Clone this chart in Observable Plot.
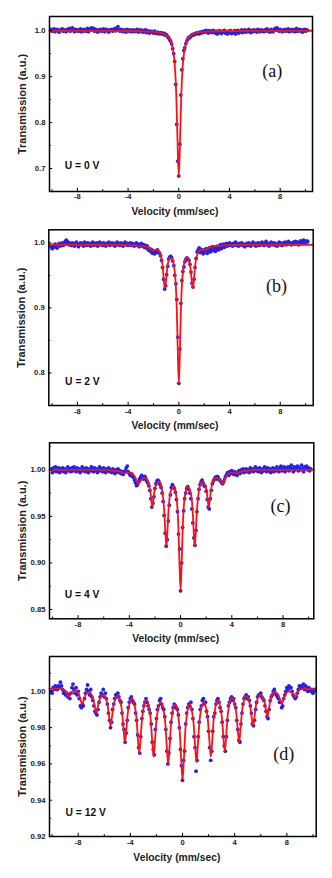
<!DOCTYPE html>
<html><head><meta charset="utf-8">
<script src="https://cdn.jsdelivr.net/npm/d3@7"></script>
<script src="https://cdn.jsdelivr.net/npm/@observablehq/plot@0.6"></script>
<style>
body{margin:0;background:#fff;}
#wrap{position:relative;width:332px;height:878px;overflow:hidden;background:#fff;}
#wrap svg{position:absolute;left:0;}
</style></head><body><div id="wrap"></div>
<script>
// channel velocities (mm/sec)
const velocity = [
-10.08,-10,-9.92,-9.84,-9.76,-9.68,-9.6,-9.52,-9.44,-9.36,
-9.28,-9.2,-9.12,-9.04,-8.96,-8.88,-8.8,-8.72,-8.64,-8.56,
-8.48,-8.4,-8.32,-8.24,-8.16,-8.08,-8,-7.92,-7.84,-7.76,
-7.68,-7.6,-7.52,-7.44,-7.36,-7.28,-7.2,-7.12,-7.04,-6.96,
-6.88,-6.8,-6.72,-6.64,-6.56,-6.48,-6.4,-6.32,-6.24,-6.16,
-6.08,-6,-5.92,-5.84,-5.76,-5.68,-5.6,-5.52,-5.44,-5.36,
-5.28,-5.2,-5.12,-5.04,-4.96,-4.88,-4.8,-4.72,-4.64,-4.56,
-4.48,-4.4,-4.32,-4.24,-4.16,-4.08,-4,-3.92,-3.84,-3.76,
-3.68,-3.6,-3.52,-3.44,-3.36,-3.28,-3.2,-3.12,-3.04,-2.96,
-2.88,-2.8,-2.72,-2.64,-2.56,-2.48,-2.4,-2.32,-2.24,-2.16,
-2.08,-2,-1.92,-1.84,-1.76,-1.68,-1.6,-1.52,-1.44,-1.36,
-1.28,-1.2,-1.12,-1.04,-0.96,-0.88,-0.8,-0.72,-0.64,-0.56,
-0.48,-0.4,-0.32,-0.24,-0.16,-0.08,0,0.08,0.16,0.24,
0.32,0.4,0.48,0.56,0.64,0.72,0.8,0.88,0.96,1.04,
1.12,1.2,1.28,1.36,1.44,1.52,1.6,1.68,1.76,1.84,
1.92,2,2.08,2.16,2.24,2.32,2.4,2.48,2.56,2.64,
2.72,2.8,2.88,2.96,3.04,3.12,3.2,3.28,3.36,3.44,
3.52,3.6,3.68,3.76,3.84,3.92,4,4.08,4.16,4.24,
4.32,4.4,4.48,4.56,4.64,4.72,4.8,4.88,4.96,5.04,
5.12,5.2,5.28,5.36,5.44,5.52,5.6,5.68,5.76,5.84,
5.92,6,6.08,6.16,6.24,6.32,6.4,6.48,6.56,6.64,
6.72,6.8,6.88,6.96,7.04,7.12,7.2,7.28,7.36,7.44,
7.52,7.6,7.68,7.76,7.84,7.92,8,8.08,8.16,8.24,
8.32,8.4,8.48,8.56,8.64,8.72,8.8,8.88,8.96,9.04,
9.12,9.2,9.28,9.36,9.44,9.52,9.6,9.68,9.76,9.84,
9.92,10,10.08,10.16];

// measured transmission, U = 0 V
const transA = [
1.003,0.999,1.002,1.004,0.998,1.001,1.003,1.000,0.997,1.002,
1.001,1.004,0.999,1.002,1.000,0.998,1.003,1.001,1.005,0.999,
1.002,1.006,1.001,0.998,1.003,1.000,1.002,0.999,1.001,1.004,
0.998,1.002,1.000,1.003,0.999,1.001,1.005,0.998,1.002,1.004,
1.006,1.002,1.005,0.999,1.003,1.001,0.997,1.002,1.000,1.003,
0.999,1.002,1.004,0.998,1.001,1.003,1.000,0.997,1.002,1.001,
1.003,0.999,1.002,1.005,1.000,1.004,1.009,1.002,0.999,1.003,
1.001,0.998,1.002,1.000,0.997,1.003,1.001,0.999,1.002,0.998,
1.000,1.002,0.998,1.001,0.999,1.003,0.997,1.000,1.002,0.998,
1.001,0.997,0.999,1.002,0.996,1.000,0.998,0.995,0.999,0.997,
0.998,0.995,0.999,0.996,0.994,0.997,0.995,0.993,0.996,0.994,
0.995,0.992,0.994,0.990,0.991,0.987,0.985,0.981,0.977,0.971,
0.961,0.950,0.933,0.883,0.796,0.716,0.684,0.753,0.860,0.915,
0.939,0.957,0.963,0.972,0.978,0.982,0.986,0.985,0.989,0.991,
0.990,0.993,0.992,0.995,0.994,0.996,0.993,0.997,0.995,0.998,
0.996,0.999,0.997,1.001,0.998,0.995,1.000,0.997,0.999,0.996,
1.001,0.998,0.995,0.999,0.993,0.997,1.000,0.996,0.994,0.999,
0.997,1.001,0.995,0.998,0.993,0.999,0.996,1.000,0.994,0.998,
0.996,1.000,0.993,0.998,1.001,0.995,0.999,0.997,1.002,0.996,
0.999,1.002,0.997,1.000,0.998,1.003,0.999,0.996,1.001,0.998,
1.002,0.999,1.001,0.997,1.003,1.000,0.998,1.002,0.999,1.001,
0.998,1.002,1.000,1.004,0.999,1.001,0.997,1.003,1.000,0.998,
1.002,1.005,1.001,1.006,1.002,0.999,1.003,1.001,0.998,1.002,
1.000,1.003,0.999,1.001,1.004,0.998,1.002,1.000,1.003,0.999,
1.002,0.998,1.005,1.001,0.999,1.003,1.000,1.002,0.997,1.001,
1.003,0.999,1.002,1.001];

// measured transmission, U = 2 V
const transB = [
0.994,0.991,0.996,0.993,0.998,0.995,0.992,0.997,0.999,0.995,
0.997,1.000,0.996,0.999,1.002,1.004,0.998,1.001,0.997,0.999,
0.996,1.000,0.998,0.995,0.999,1.001,0.997,0.994,0.998,1.000,
0.997,0.999,0.995,1.001,0.998,0.996,1.000,0.997,0.999,0.995,
0.998,1.001,0.996,0.999,0.997,1.000,0.995,0.998,1.001,0.997,
0.999,0.996,1.000,0.997,0.995,0.999,0.998,1.001,0.996,0.998,
1.000,0.997,0.999,0.995,0.998,1.001,0.997,0.999,0.996,1.000,
0.998,0.995,0.999,1.001,0.997,0.999,0.996,0.998,1.000,0.996,
0.999,0.997,0.995,0.998,1.000,0.996,0.998,0.994,0.997,0.999,
0.995,0.997,0.993,0.996,0.992,0.995,0.989,0.991,0.987,0.990,
0.984,0.986,0.983,0.987,0.985,0.989,0.986,0.984,0.980,0.973,
0.962,0.944,0.929,0.934,0.951,0.964,0.975,0.978,0.979,0.977,
0.972,0.965,0.950,0.937,0.913,0.855,0.784,0.837,0.907,0.942,
0.956,0.963,0.971,0.975,0.977,0.975,0.973,0.967,0.955,0.938,
0.932,0.944,0.962,0.976,0.986,0.989,0.992,0.985,0.990,0.987,
0.983,0.989,0.986,0.991,0.984,0.988,0.992,0.986,0.990,0.994,
0.988,0.993,0.987,0.991,0.995,0.989,0.993,0.997,0.991,0.994,
0.998,0.993,0.996,0.999,0.995,0.997,1.000,0.996,0.998,0.995,
0.999,0.997,1.001,0.996,0.998,0.995,0.999,0.997,1.000,0.996,
0.998,0.994,0.997,0.999,0.996,1.000,0.997,0.995,0.998,1.001,
0.997,0.999,0.995,0.998,1.000,0.996,0.999,0.997,1.001,0.998,
0.996,0.999,1.002,0.997,0.999,0.995,0.998,1.001,0.997,0.999,
1.000,0.996,0.998,0.995,0.999,1.001,0.997,0.999,0.996,1.000,
0.998,1.001,0.997,0.999,1.002,0.998,1.000,0.997,0.999,1.001,
0.998,1.002,0.999,1.001,0.997,1.000,1.003,0.999,1.001,1.004,
1.001,0.999,1.003,1.002];

// measured transmission, U = 4 V
const transC = [
1.001,0.997,1.002,0.999,1.003,0.998,1.000,1.002,0.997,1.001,
0.999,1.002,0.998,1.001,0.997,1.000,1.003,0.999,1.001,0.998,
1.002,0.999,1.003,1.000,0.998,1.002,0.999,1.001,0.997,1.000,
1.003,0.999,1.001,0.998,1.002,1.000,0.997,1.001,0.999,1.003,
1.000,0.998,1.002,0.999,1.001,0.997,1.000,1.003,0.999,1.001,
0.998,1.002,1.000,0.997,1.001,0.999,1.002,0.998,1.000,0.997,
1.001,0.999,0.996,1.000,0.998,1.001,0.997,0.999,0.996,0.998,
0.995,0.997,0.999,1.002,1.004,0.998,0.996,0.994,0.996,0.993,
0.992,0.989,0.986,0.983,0.984,0.987,0.990,0.992,0.994,0.991,
0.990,0.993,0.991,0.988,0.986,0.983,0.978,0.969,0.960,0.964,
0.971,0.980,0.985,0.988,0.989,0.987,0.984,0.981,0.975,0.966,
0.951,0.932,0.918,0.925,0.945,0.962,0.973,0.981,0.984,0.982,
0.980,0.976,0.968,0.955,0.931,0.915,0.870,0.900,0.938,0.956,
0.969,0.975,0.980,0.982,0.979,0.975,0.969,0.958,0.943,0.927,
0.919,0.935,0.955,0.969,0.979,0.984,0.987,0.989,0.986,0.983,
0.982,0.977,0.968,0.960,0.958,0.969,0.978,0.985,0.988,0.990,
0.992,0.990,0.993,0.991,0.989,0.988,0.986,0.985,0.987,0.990,
0.993,0.995,0.997,0.994,0.998,0.996,0.999,0.997,0.995,0.998,
0.996,0.994,0.997,0.999,0.996,1.000,0.998,1.001,0.997,0.999,
1.001,0.998,1.000,0.997,1.002,0.999,1.001,0.998,1.000,1.003,
0.999,1.001,0.998,1.002,1.000,0.997,1.001,0.999,1.003,1.000,
0.998,1.002,0.999,1.001,0.997,1.000,1.002,0.998,1.001,0.999,
1.003,1.000,0.998,1.002,1.004,0.999,1.001,1.003,0.998,1.002,
1.000,1.003,0.999,1.002,1.005,1.001,0.998,1.003,1.000,1.002,
1.004,0.999,1.002,1.000,1.005,1.001,0.998,1.003,1.001,1.004,
1.000,1.002,0.999,1.001];

// measured transmission, U = 12 V
const transD = [
1.000,0.999,1.002,1.001,1.003,1.002,1.001,1.003,1.002,1.005,
1.003,1.001,0.999,1.000,0.998,0.999,0.997,0.998,0.996,0.999,
1.002,1.004,1.001,0.999,1.002,0.998,1.000,0.996,0.992,0.991,
0.993,0.992,0.996,0.999,1.001,1.0035,1.000,0.998,1.001,0.997,
0.995,0.992,0.989,0.988,0.987,0.990,0.994,0.997,0.999,0.998,
1.001,0.997,0.999,0.996,0.993,0.988,0.984,0.980,0.983,0.990,
0.993,0.996,0.998,0.997,0.999,0.997,0.995,0.994,0.988,0.982,
0.979,0.972,0.977,0.984,0.991,0.994,0.996,0.997,0.995,0.994,
0.993,0.988,0.984,0.976,0.969,0.966,0.975,0.985,0.989,0.992,
0.994,0.996,0.994,0.992,0.990,0.988,0.982,0.972,0.968,0.965,
0.979,0.985,0.990,0.992,0.995,0.996,0.993,0.991,0.990,0.986,
0.979,0.967,0.960,0.966,0.974,0.983,0.988,0.991,0.993,0.992,
0.991,0.990,0.987,0.980,0.968,0.959,0.951,0.962,0.967,0.982,
0.988,0.991,0.993,0.992,0.994,0.990,0.985,0.975,0.969,0.956,
0.962,0.975,0.983,0.990,0.992,0.995,0.996,0.993,0.994,0.989,
0.986,0.978,0.969,0.962,0.967,0.978,0.986,0.988,0.993,0.995,
0.996,0.994,0.991,0.989,0.983,0.975,0.970,0.967,0.975,0.984,
0.992,0.994,0.996,0.997,0.995,0.996,0.993,0.991,0.984,0.979,
0.973,0.972,0.982,0.988,0.993,0.996,0.997,0.998,0.996,0.997,
0.995,0.992,0.988,0.982,0.981,0.984,0.990,0.994,0.997,0.998,
0.998,0.999,0.997,0.996,0.995,0.992,0.989,0.986,0.985,0.990,
0.995,0.997,0.998,1.000,1.001,0.999,0.998,0.997,0.996,0.994,
0.994,0.991,0.992,0.996,0.998,1.000,1.002,1.001,1.003,1.002,
1.002,1.000,0.998,0.997,0.996,0.997,0.999,1.001,1.003,1.002,
1.003,1.002,1.004,1.001,1.003,1.002,1.000,1.002,1.001,1.000,
1.001,0.999,1.000,1.001];

// fitted curves (velocity, transmission)
const fitAv = [-10.2,-4,-2,-1.5,-1.2,-1,-0.8,-0.6,-0.45,-0.3,-0.2,-0.1,0,0.1,0.2,0.3,0.45,0.6,0.8,1,1.2,1.5,2,4,10.55];
const fitAt = [1,0.9994,0.9976,0.9958,0.9934,0.9906,0.9855,0.975,0.958,0.9195,0.8625,0.761,0.683,0.761,0.8625,0.9195,0.958,0.975,0.9855,0.9906,0.9934,0.9958,0.9976,0.9994,1];

const fitBv = [-10.26,-5,-3.5,-2.8,-2.4,-2.2,-2,-1.8,-1.6,-1.44,-1.36,-1.28,-1.2,-1.12,-1.04,-0.96,-0.88,-0.8,-0.72,-0.64,-0.56,-0.48,-0.4,-0.32,-0.24,-0.16,-0.08,0,0.08,0.16,0.24,0.32,0.4,0.48,0.56,0.64,0.72,0.8,0.88,0.96,1.04,1.12,1.2,1.28,1.36,1.44,1.6,1.8,2,2.2,2.4,2.8,3.5,5,10.6];
const fitBt = [0.997,0.997,0.996,0.995,0.993,0.990,0.9886,0.9895,0.988,0.981,0.975,0.964,0.946,0.931,0.937,0.953,0.966,0.973,0.976,0.977,0.976,0.973,0.967,0.955,0.935,0.896,0.831,0.784,0.831,0.896,0.935,0.955,0.967,0.973,0.976,0.977,0.976,0.973,0.966,0.953,0.937,0.931,0.946,0.964,0.975,0.981,0.988,0.9895,0.9886,0.990,0.993,0.995,0.996,0.997,0.997];

const fitCv = [-10.23,-6,-5.2,-4.7,-4.5,-4.4,-4.3,-4.1,-3.9,-3.7,-3.5,-3.38,-3.3,-3.22,-3.12,-3,-2.9,-2.76,-2.64,-2.52,-2.44,-2.36,-2.28,-2.2,-2.12,-2.04,-1.96,-1.88,-1.8,-1.68,-1.56,-1.44,-1.34,-1.26,-1.18,-1.1,-1.04,-0.96,-0.88,-0.8,-0.7,-0.55,-0.4,-0.32,-0.24,-0.16,-0.08,0,
0.08,0.16,0.24,0.32,0.4,0.55,0.7,0.8,0.88,0.96,1.04,1.1,1.18,1.26,1.34,1.44,1.56,1.68,1.8,1.88,1.96,2.04,2.12,2.2,2.28,2.36,2.44,2.52,2.64,2.76,2.9,3,3.12,3.22,3.3,3.38,3.5,3.7,3.9,4.1,4.3,4.4,4.5,4.7,5.2,6,10.4];
const fitCt = [1,1,0.999,0.998,0.9965,0.996,0.9965,0.997,0.997,0.995,0.991,0.987,0.985,0.986,0.988,0.990,0.991,0.991,0.990,0.987,0.983,0.977,0.967,0.960,0.967,0.977,0.982,0.9845,0.986,0.987,0.985,0.978,0.967,0.952,0.931,0.918,0.930,0.952,0.967,0.975,0.979,0.982,0.977,0.970,0.958,0.934,0.897,0.871,
0.897,0.934,0.958,0.970,0.977,0.982,0.979,0.975,0.967,0.952,0.930,0.918,0.931,0.952,0.967,0.978,0.985,0.987,0.986,0.9845,0.982,0.977,0.967,0.960,0.967,0.977,0.983,0.987,0.990,0.991,0.991,0.990,0.988,0.986,0.985,0.987,0.991,0.995,0.997,0.997,0.9965,0.996,0.9965,0.998,0.999,1,1];

const fitDv = [-10.2,-9.4,-9.1,-8.97,-8.85,-8.75,-8.65,-8.53,-8.4,-8.22,
-8.05,-7.92,-7.8,-7.7,-7.6,-7.48,-7.35,-7.16,
-6.97,-6.84,-6.72,-6.62,-6.52,-6.4,-6.27,-6.07,
-5.87,-5.74,-5.62,-5.52,-5.42,-5.3,-5.17,-4.97,
-4.77,-4.64,-4.52,-4.42,-4.32,-4.2,-4.07,-3.87,
-3.67,-3.54,-3.42,-3.32,-3.22,-3.1,-2.97,-2.77,
-2.57,-2.44,-2.32,-2.22,-2.12,-2,-1.87,-1.66,
-1.45,-1.32,-1.2,-1.1,-1,-0.88,-0.75,-0.55,
-0.35,-0.22,-0.1,0,0.1,0.22,0.35,0.53,
0.72,0.85,0.97,1.07,1.17,1.29,1.42,1.62,
1.82,1.95,2.07,2.17,2.27,2.39,2.52,2.7,
2.89,3.02,3.14,3.24,3.34,3.46,3.59,3.79,
3.99,4.12,4.24,4.34,4.44,4.56,4.69,4.87,
5.06,5.19,5.31,5.41,5.51,5.63,5.76,5.96,
6.16,6.29,6.41,6.51,6.61,6.73,6.86,7.06,
7.26,7.39,7.51,7.61,7.71,7.83,7.96,8.13,
8.3,8.43,8.55,8.65,8.75,8.87,9,9.3,10.25];
const fitDt = [1.0015,1.0015,1.0009,1.0000,0.9982,0.997,0.9979,0.9993,1.0001,1.0005,
0.9996,0.998,0.995,0.993,0.9947,0.9973,0.9987,0.9995,
0.9981,0.9956,0.991,0.988,0.9906,0.9946,0.9968,0.998,
0.9959,0.9923,0.9854,0.981,0.9853,0.9919,0.9955,0.9975,
0.9943,0.9889,0.9787,0.972,0.9783,0.9879,0.993,0.996,
0.9923,0.9859,0.9738,0.966,0.9736,0.9852,0.9914,0.995,
0.9912,0.9846,0.9721,0.964,0.9718,0.9839,0.9903,0.994,
0.9898,0.9825,0.9689,0.960,0.9686,0.9819,0.9889,0.993,
0.9878,0.9788,0.962,0.951,0.962,0.9788,0.9878,0.993,
0.989,0.9822,0.9694,0.961,0.9696,0.9829,0.9899,0.994,
0.9903,0.9839,0.9718,0.964,0.9721,0.9846,0.9912,0.995,
0.9915,0.9856,0.9743,0.967,0.9747,0.9866,0.9928,0.9965,
0.9935,0.9882,0.9784,0.972,0.9787,0.9889,0.9943,0.9975,
0.9955,0.9919,0.9853,0.981,0.9854,0.9923,0.9959,0.998,
0.9965,0.994,0.9891,0.986,0.9895,0.995,0.9978,0.9995,
0.9987,0.9973,0.9947,0.993,0.9948,0.9976,0.9991,1.000,
0.9996,0.999,0.9978,0.997,0.9982,1.0000,1.0009,1.0015,1.001];

// axis ticks and texts
const xMajor = [-8,-4,0,4,8];
const xMinor = [-10,-6,-2,2,6,10];
const yMajorA = [0.7,0.8,0.9,1.0], yMinorA = [0.75,0.85,0.95];
const yMajorB = [0.8,0.9,1.0], yMinorB = [0.85,0.95];
const yMajorC = [0.85,0.90,0.95,1.00], yMinorC = [0.875,0.925,0.975,1.025];
const yMajorD = [0.92,0.94,0.96,0.98,1.00], yMinorD = [0.93,0.95,0.97,0.99,1.01];
const panelLetters = ["(a)","(b)","(c)","(d)"];
const voltages = ["U = 0 V","U = 2 V","U = 4 V","U = 12 V"];
const xTitle = "Velocity (mm/sec)";
const yTitle = "Transmission (a.u.)";

const toRows = (vs, ts) => vs.map((v, i) => ({v, t: ts[i]}));

// layout (pixels) of each panel
const panels = [
  {trans: transA, fv: fitAv, ft: fitAt, yMaj: yMajorA, yMin: yMinorA, fmt: ".1f",
   top: 0, height: 218, mt: 16, mb: 27, ml: 49, mr: 20, xd: [-10.2, 10.55], yd: [0.65, 1.031],
   padX: 2.5, letter: [-40.3, 54.7], volt: [15.3, -25.3], xt: 20.5},
  {trans: transB, fv: fitBv, ft: fitBt, yMaj: yMajorB, yMin: yMinorB, fmt: ".1f",
   top: 218, height: 212, mt: 11.3, mb: 25, ml: 48.3, mr: 19.3, xd: [-10.26, 10.6], yd: [0.75, 1.02],
   padX: 3.5, letter: [-36.7, 56.7], volt: [16.3, -24], xt: 20.5},
  {trans: transC, fv: fitCv, ft: fitCt, yMaj: yMajorC, yMin: yMinorC, fmt: ".2f",
   top: 430, height: 213, mt: 12.3, mb: 24.7, ml: 49, mr: 18.7, xd: [-10.23, 10.4], yd: [0.84, 1.029],
   padX: 3, letter: [-33.3, 63.7], volt: [15.3, -24.3], xt: 19.5},
  {trans: transD, fv: fitDv, ft: fitDt, yMaj: yMajorD, yMin: yMinorD, fmt: ".2f",
   top: 643, height: 235, mt: 13, mb: 42, ml: 49, mr: 16.3, xd: [-10.2, 10.25], yd: [0.92, 1.0192],
   padX: 3, letter: [-32.4, 97.3], volt: [16, -23.7], xt: 21.3}
];

const wrap = document.getElementById("wrap");
const W = 332;
panels.forEach((p, k) => {
  const fh = p.height - p.mt - p.mb;
  const fw = W - p.ml - p.mr;
  const svg = Plot.plot({
    width: W, height: p.height,
    marginTop: p.mt, marginBottom: p.mb, marginLeft: p.ml, marginRight: p.mr,
    style: {fontFamily: "'Liberation Sans', Arial, sans-serif", fontWeight: "bold", background: "transparent", color: "#111", overflow: "visible"},
    x: {domain: p.xd, label: null},
    y: {domain: p.yd, label: null},
    marks: [
      Plot.dot(toRows(velocity, p.trans), {x: "v", y: "t", r: 1.9, fill: "#1f22f2", stroke: "none"}),
      Plot.line(toRows(p.fv, p.ft), {x: "v", y: "t", stroke: "#ff1010", strokeWidth: 1.8, curve: "monotone-x"}),
      Plot.frame({stroke: "#000", strokeWidth: 1.5}),
      Plot.tickX(xMajor, {x: d => d, insetTop: fh - 3.2, stroke: "#000", strokeWidth: 1}),
      Plot.tickX(xMinor.filter(d => d > p.xd[0] && d < p.xd[1]), {x: d => d, insetTop: fh - 1.8, stroke: "#000", strokeWidth: 1}),
      Plot.tickY(p.yMaj, {y: d => d, insetRight: fw - 3.2, stroke: "#000", strokeWidth: 1}),
      Plot.tickY(p.yMin.filter(d => d > p.yd[0] && d < p.yd[1]), {y: d => d, insetRight: fw - 1.8, stroke: "#000", strokeWidth: 1}),
      Plot.axisX(xMajor, {tickSize: 0, tickPadding: p.padX, tickFormat: d => String(d), fontSize: 7.5, fontWeight: "bold", fill: "#1a1a1a", label: null}),
      Plot.axisY(p.yMaj, {tickSize: 0, tickPadding: 4, tickFormat: d3.format(p.fmt), fontSize: 7.7, fontWeight: "bold", fill: "#1a1a1a", label: null}),
      Plot.text([xTitle], {text: d => d, frameAnchor: "bottom", dx: -6, dy: p.xt, lineAnchor: "middle", textAnchor: "middle", fontSize: 10.3, fontWeight: "bold", fill: "#222"}),
      Plot.text([yTitle], {text: d => d, frameAnchor: "left", dx: -27.3, rotate: -90, lineAnchor: "middle", textAnchor: "middle", fontSize: 11, fontWeight: "bold", fill: "#222"}),
      Plot.text([voltages[k]], {text: d => d, frameAnchor: "bottom-left", dx: p.volt[0], dy: p.volt[1], textAnchor: "start", lineAnchor: "middle", fontSize: 10.3, fontWeight: "bold", fill: "#111"}),
      Plot.text([panelLetters[k]], {text: d => d, frameAnchor: "top-right", dx: p.letter[0], dy: p.letter[1], textAnchor: "middle", lineAnchor: "middle", fontSize: 18, fontWeight: "normal", fontFamily: "'Liberation Serif', 'Times New Roman', serif", fill: "#111"})
    ]
  });
  svg.style.top = p.top + "px";
  wrap.appendChild(svg);
});
</script></body></html>
